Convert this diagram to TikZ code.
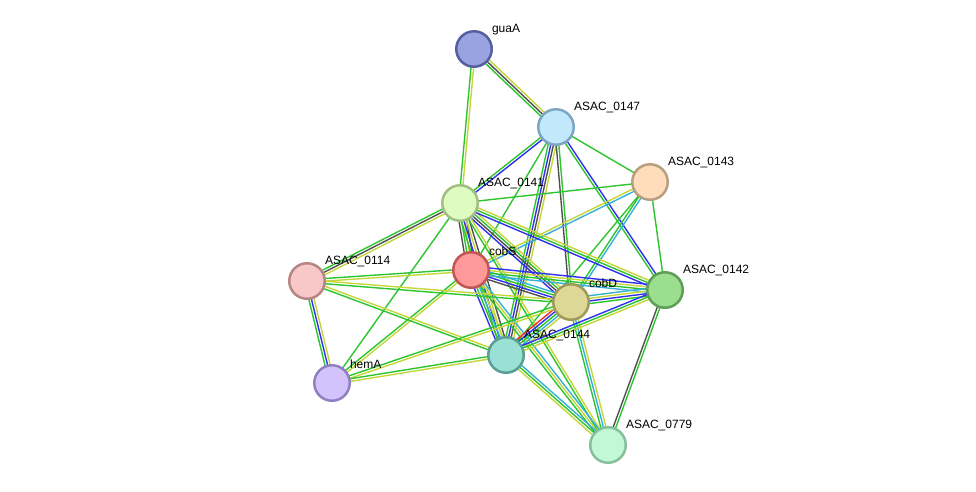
\documentclass[tikz,border=0pt]{standalone}
\usepackage{fontspec}
\setmainfont{Liberation Sans}
\usetikzlibrary{calc,backgrounds}

\definecolor{sgreen}{HTML}{2DC52D}
\definecolor{syellow}{HTML}{C4D63A}
\definecolor{sblue}{HTML}{3030F0}
\definecolor{sdark}{HTML}{505050}
\definecolor{scyan}{HTML}{35B0D8}
\definecolor{sred}{HTML}{F03030}

% parallel coloured lines between two proteins
\newcommand{\wire}[3]{%
    \foreach \c [count=\k] in {#3} {\xdef\wirecount{\k}}
    \foreach \c [count=\k] in {#3} {
        \draw[\c, edge] let \p1=($(#2)-(#1)$), \n1={atan2(\y1,\x1)+90},
            \n2={(\k-(\wirecount+1)/2)*2.6} in
            ($(#1)+(\n1:\n2 pt)$) -- ($(#2)+(\n1:\n2 pt)$);
    }
}

\begin{document}
\begin{tikzpicture}[%
            x=1pt, y=-1pt,
            prot/.style={
                circle,
                minimum size=35.5pt,
                inner sep=0pt,
                line width=2.5pt,
            },
            lab/.style={
                font=\fontsize{12}{14}\selectfont,
                inner sep=0pt,
                label distance=2pt,
                xshift=3pt,
                yshift=-1pt,
            },
            edge/.style={line width=1.4pt},
        ]
        \useasboundingbox (0,0) rectangle (976,491);

        \node[prot, fill={rgb,255:red,152;green,163;blue,224}, draw={rgb,255:red,86;green,96;blue,160},
            label={[lab]45:guaA}] (guaA) at (474,49) {};
        \node[prot, fill={rgb,255:red,194;green,232;blue,251}, draw={rgb,255:red,127;green,166;blue,192},
            label={[lab]45:ASAC\_0147}] (a0147) at (556,127) {};
        \node[prot, fill={rgb,255:red,254;green,220;blue,188}, draw={rgb,255:red,184;green,159;blue,128},
            label={[lab]45:ASAC\_0143}] (a0143) at (650,182) {};
        \node[prot, fill={rgb,255:red,223;green,252;blue,192}, draw={rgb,255:red,160;green,191;blue,133},
            label={[lab]45:ASAC\_0141}] (a0141) at (460,203) {};
        \node[prot, fill={rgb,255:red,255;green,153;blue,153}, draw={rgb,255:red,192;green,86;blue,86},
            label={[lab]45:cobS}] (cobS) at (471,270) {};
        \node[prot, fill={rgb,255:red,248;green,200;blue,200}, draw={rgb,255:red,184;green,133;blue,133},
            label={[lab]45:ASAC\_0114}] (a0114) at (307,281) {};
        \node[prot, fill={rgb,255:red,221;green,216;blue,149}, draw={rgb,255:red,160;green,154;blue,90},
            label={[lab]45:cobD}] (cobD) at (571,302) {};
        \node[prot, fill={rgb,255:red,155;green,222;blue,143}, draw={rgb,255:red,94;green,158;blue,85},
            label={[lab]45:ASAC\_0142}] (a0142) at (665,290) {};
        \node[prot, fill={rgb,255:red,154;green,224;blue,213}, draw={rgb,255:red,91;green,158;blue,149},
            label={[lab]45:ASAC\_0144}] (a0144) at (506,355) {};
        \node[prot, fill={rgb,255:red,212;green,194;blue,252}, draw={rgb,255:red,144;green,128;blue,192},
            label={[lab]45:hemA}] (hemA) at (332,383) {};
        \node[prot, fill={rgb,255:red,193;green,249;blue,214}, draw={rgb,255:red,133;green,191;blue,155},
            label={[lab]45:ASAC\_0779}] (a0779) at (608,445) {};

        \begin{pgfonlayer}{background}
            \wire{guaA}{a0147}{sgreen,sdark,syellow}
            \wire{guaA}{a0141}{sgreen,syellow}
            \wire{a0147}{a0141}{sgreen,sblue}
            \wire{a0147}{a0143}{sgreen}
            \wire{a0147}{cobS}{sgreen}
            \wire{a0147}{a0144}{sgreen,sblue,sdark,syellow}
            \wire{a0147}{cobD}{sdark,sgreen}
            \wire{a0147}{a0142}{sgreen,sblue}
            \wire{a0143}{a0141}{sgreen}
            \wire{a0143}{cobS}{syellow,scyan}
            \wire{a0143}{cobD}{sgreen,scyan}
            \wire{a0143}{a0144}{sgreen}
            \wire{a0143}{a0142}{sgreen}
            \wire{a0141}{cobS}{sdark,sgreen,syellow,sdark}
            \wire{a0141}{a0114}{sgreen,sdark,syellow}
            \wire{a0141}{cobD}{sblue,sdark,sgreen,syellow}
            \wire{a0141}{a0142}{sblue,sgreen,syellow}
            \wire{a0141}{a0144}{sgreen,sblue,syellow,sdark}
            \wire{a0141}{a0779}{sgreen,syellow}
            \wire{a0141}{hemA}{sgreen}
            \wire{cobS}{a0114}{sgreen,syellow}
            \wire{cobS}{cobD}{sdark,sblue,sgreen,scyan}
            \wire{cobS}{a0142}{scyan,sgreen,syellow,sblue}
            \wire{cobS}{a0144}{sblue,sgreen,scyan,syellow}
            \wire{cobS}{a0779}{sgreen,syellow,scyan}
            \wire{cobS}{hemA}{sgreen,syellow}
            \wire{a0114}{cobD}{sgreen,syellow}
            \wire{a0114}{a0144}{sgreen,syellow}
            \wire{a0114}{hemA}{sgreen,sblue,syellow}
            \wire{cobD}{a0142}{sgreen,sblue,syellow,scyan}
            \wire{cobD}{a0144}{sred,sblue,sgreen,scyan,syellow}
            \wire{cobD}{a0779}{sgreen,scyan,syellow}
            \wire{cobD}{hemA}{sgreen,syellow}
            \wire{a0142}{a0144}{sblue,sgreen,syellow}
            \wire{a0142}{a0779}{sdark,sgreen}
            \wire{a0144}{hemA}{sgreen,syellow}
            \wire{a0144}{a0779}{syellow,sgreen,scyan}
        \end{pgfonlayer}
    \end{tikzpicture}
\end{document}
